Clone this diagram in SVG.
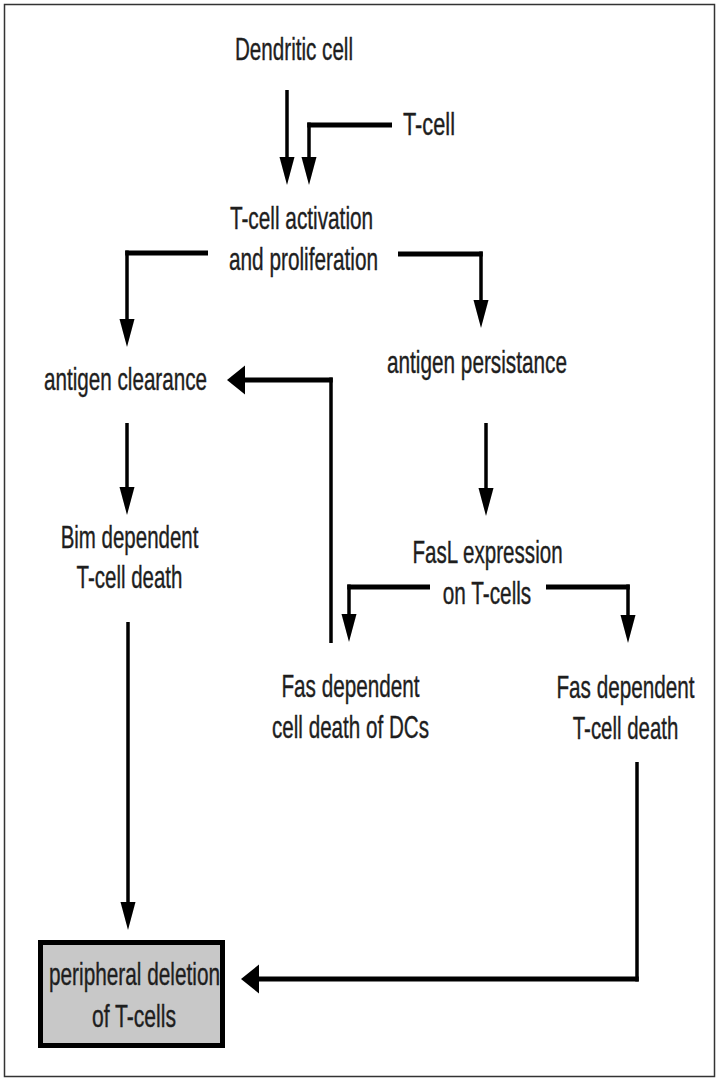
<svg xmlns="http://www.w3.org/2000/svg" width="719" height="1080" viewBox="0 0 719 1080">
<style>
.t{font-family:"Liberation Sans",Arial,Helvetica,sans-serif;font-size:32px;fill:#1e1e1e;stroke:#1e1e1e;stroke-width:0.4;text-anchor:middle;}
.h{stroke:#000;stroke-width:5;fill:none;}
.v{stroke:#000;stroke-width:3.5;fill:none;}
.ad{marker-end:url(#arrowV);}
.al{marker-end:url(#arrowH);}
</style>
<defs>
<marker id="arrowV" markerUnits="userSpaceOnUse" markerWidth="28" markerHeight="15" refX="0" refY="7.5" orient="auto" overflow="visible">
<path d="M0,0 L28,7.5 L0,15 z" fill="#000"/>
</marker>
<marker id="arrowH" markerUnits="userSpaceOnUse" markerWidth="18" markerHeight="29" refX="0" refY="14.5" orient="auto" overflow="visible">
<path d="M0,0 L18,14.5 L0,29 z" fill="#000"/>
</marker>
</defs>
<rect x="0" y="0" width="719" height="1080" fill="#fff"/>
<rect x="4.5" y="4.5" width="710" height="1072" fill="none" stroke="#333" stroke-width="1.5"/>

<g id="connectors">
<path class="v ad" d="M287,90 V157"/>
<path class="h" d="M392,125 H307.25"/>
<path class="v ad" d="M309,122.5 V157"/>
<path class="h" d="M208,253 H125.25"/>
<path class="v ad" d="M127,250.5 V319"/>
<path class="h" d="M398,254 H482.75"/>
<path class="v ad" d="M481,251.5 V300"/>
<path class="v ad" d="M127,423 V487"/>
<path class="v ad" d="M486,423 V488"/>
<path class="h" d="M430,587 H347.25"/>
<path class="v ad" d="M349,584.5 V614"/>
<path class="h" d="M546,587 H629.75"/>
<path class="v ad" d="M628,584.5 V615"/>
<path class="v" d="M331,643 V377.5"/>
<path class="h al" d="M332.75,380 H245"/>
<path class="v ad" d="M128,622 V902"/>
<path class="v" d="M637,762 V981.5"/>
<path class="h al" d="M638.75,979 H259"/>
</g>

<g id="dendritic-cell"><text class="t" transform="translate(294,60) scale(0.645,1)">Dendritic cell</text></g>
<g id="t-cell"><text class="t" transform="translate(429,135) scale(0.68,1)">T-cell</text></g>
<g id="activation">
<text class="t" transform="translate(301.5,229) scale(0.65,1)">T-cell activation</text>
<text class="t" transform="translate(303.5,270) scale(0.65,1)">and proliferation</text>
</g>
<g id="antigen-clearance"><text class="t" transform="translate(125.5,390) scale(0.646,1)">antigen clearance</text></g>
<g id="antigen-persistance"><text class="t" transform="translate(477,373) scale(0.649,1)">antigen persistance</text></g>
<g id="bim">
<text class="t" transform="translate(129.5,548) scale(0.64,1)">Bim dependent</text>
<text class="t" transform="translate(129.5,588) scale(0.64,1)">T-cell death</text>
</g>
<g id="fasl">
<text class="t" transform="translate(487.5,563) scale(0.643,1)">FasL expression</text>
<text class="t" transform="translate(487,604) scale(0.649,1)">on T-cells</text>
</g>
<g id="fas-dc">
<text class="t" transform="translate(350.5,697) scale(0.647,1)">Fas dependent</text>
<text class="t" transform="translate(350.5,738) scale(0.645,1)">cell death of DCs</text>
</g>
<g id="fas-t">
<text class="t" transform="translate(625.5,698) scale(0.647,1)">Fas dependent</text>
<text class="t" transform="translate(625.5,739) scale(0.638,1)">T-cell death</text>
</g>
<g id="peripheral-deletion">
<rect x="40.5" y="942.5" width="182" height="103" fill="#c8c8c8" stroke="#000" stroke-width="5"/>
<text class="t" transform="translate(134.5,985) scale(0.65,1)">peripheral deletion</text>
<text class="t" transform="translate(134,1027) scale(0.66,1)">of T-cells</text>
</g>
</svg>
